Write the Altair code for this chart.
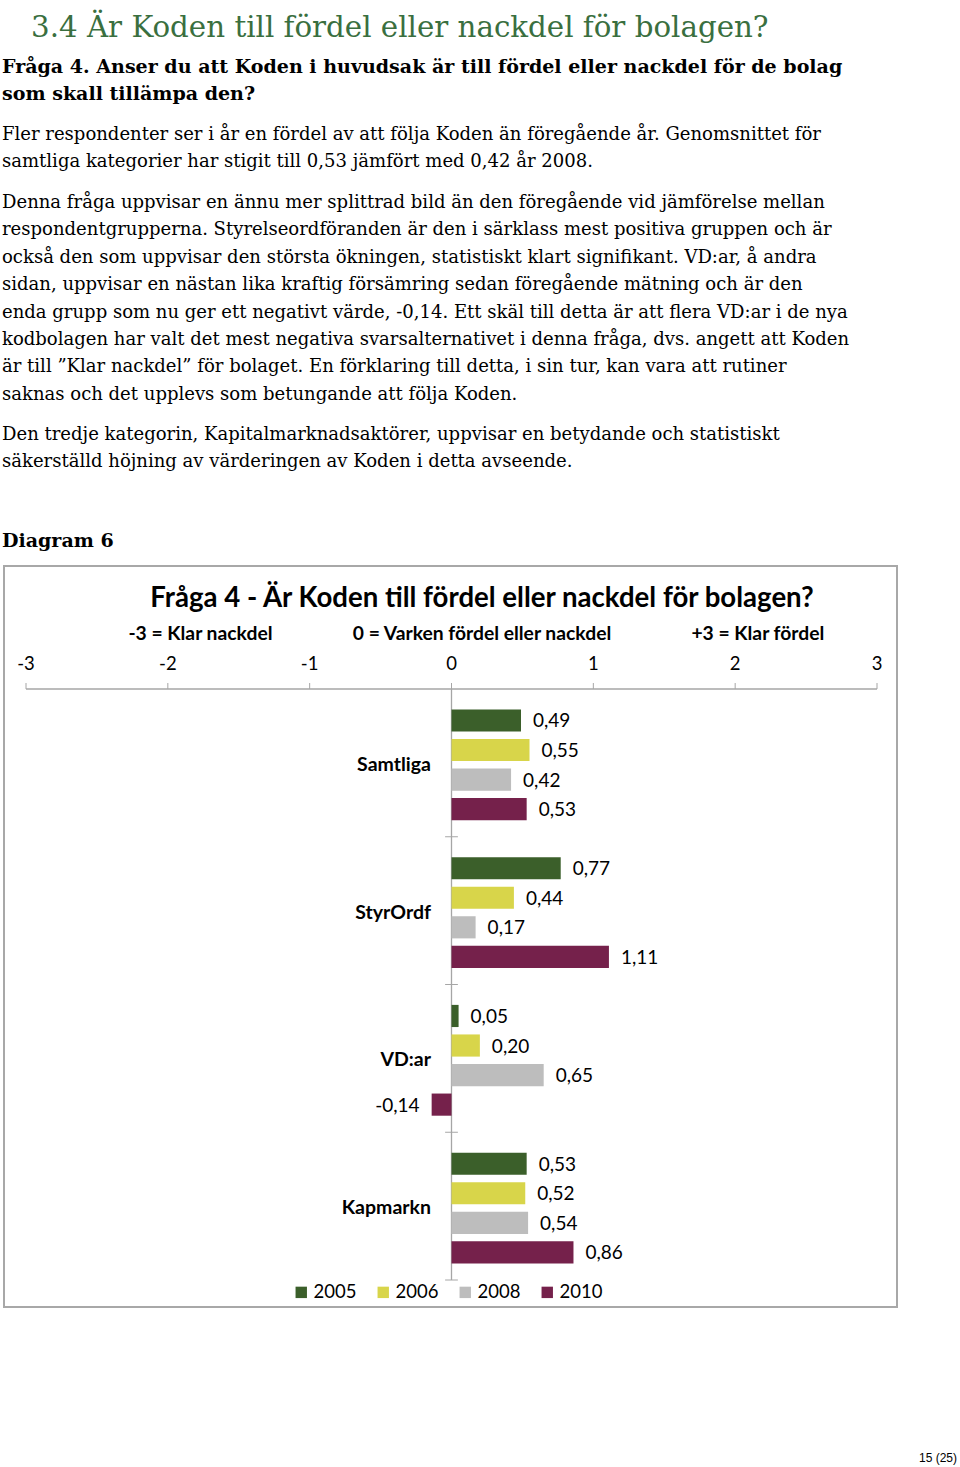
import altair as alt
import pandas as pd

# ---------------- data ----------------
categories = ["Samtliga", "StyrOrdf", "VD:ar", "Kapmarkn"]
years = ["2005", "2006", "2008", "2010"]
v2005 = [0.49, 0.77, 0.05, 0.53]
v2006 = [0.55, 0.44, 0.20, 0.52]
v2008 = [0.42, 0.17, 0.65, 0.54]
v2010 = [0.53, 1.11, -0.14, 0.86]
year_colors = ["#3b5f2a", "#d8d54a", "#bdbdbd", "#75214b"]
axis_ticks = [-3, -2, -1, 0, 1, 2, 3]
axis_tick_labels = ["-3", "-2", "-1", "0", "1", "2", "3"]
scale_notes = ["-3 = Klar nackdel", "0 = Varken fördel eller nackdel", "+3 = Klar fördel"]
scale_note_pos = [-1.77, 0.215, 2.16]

heading = "3.4  Är Koden till fördel eller nackdel för bolagen?"
question = ["Fråga 4. Anser du att Koden i huvudsak är till fördel eller nackdel för de bolag",
            "som skall tillämpa den?"]
para1 = ["Fler respondenter ser i år en fördel av att följa Koden än föregående år. Genomsnittet för",
         "samtliga kategorier har stigit till 0,53 jämfört med 0,42 år 2008."]
para2 = ["Denna fråga uppvisar en ännu mer splittrad bild än den föregående vid jämförelse mellan",
         "respondentgrupperna. Styrelseordföranden är den i särklass mest positiva gruppen och är",
         "också den som uppvisar den största ökningen, statistiskt klart signifikant. VD:ar, å andra",
         "sidan, uppvisar en nästan lika kraftig försämring sedan föregående mätning och är den",
         "enda grupp som nu ger ett negativt värde, -0,14. Ett skäl till detta är att flera VD:ar i de nya",
         "kodbolagen har valt det mest negativa svarsalternativet i denna fråga, dvs. angett att Koden",
         "är till ”Klar nackdel” för bolaget. En förklaring till detta, i sin tur, kan vara att rutiner",
         "saknas och det upplevs som betungande att följa Koden."]
para3 = ["Den tredje kategorin, Kapitalmarknadsaktörer, uppvisar en betydande och statistiskt",
         "säkerställd höjning av värderingen av Koden i detta avseende."]
diagram_label = "Diagram 6"
chart_title = "Fråga 4 - Är Koden till fördel eller nackdel för bolagen?"
footer = "15 (25)"

rows = []
for yi, (y, vals) in enumerate(zip(years, [v2005, v2006, v2008, v2010])):
    for ci, (c, v) in enumerate(zip(categories, vals)):
        rows.append({"cat": c, "ci": ci, "year": y, "yi": yi, "v": v, "zero": 0})
df = pd.DataFrame(rows)
cat_df = pd.DataFrame({"cat": categories, "ci": list(range(len(categories)))})

W, H = 960, 1467
SERIF = "DejaVu Serif"
SANS = "Lato"
GRAY = "#a6a6a6"

# group of 4 bars = 5 slots (outer padding, bars 0.75 wide, step 1)
G = 5
PAD = 0.69
xs = alt.Scale(domain=[-3, 3], range=[26, 877], nice=False, zero=False)
ys = alt.Scale(domain=[0, G * len(categories)], range=[689, 1280], nice=False, zero=False)

one = pd.DataFrame({"a": [0]})


def txt(text, x, y, size, font=SERIF, weight="normal", color="#000000", align="left",
        baseline="alphabetic", line_height=None):
    kw = dict(text=text, font=font, fontSize=size, fontWeight=weight, color=color,
              align=align, baseline=baseline)
    if line_height:
        kw["lineHeight"] = line_height
    return alt.Chart(one).mark_text(**kw).encode(x=alt.value(x), y=alt.value(y))


LH = 27.4
page_text = [
    txt(heading, 31, 37, 29.3, color="#3a6f3f"),
    txt(question, 2, 73, 19.05, weight="bold", line_height=LH),
    txt(para1, 2, 140, 18.05, line_height=LH),
    txt(para2, 2, 208, 18.05, line_height=LH),
    txt(para3, 2, 440, 18.05, line_height=LH),
    txt(diagram_label, 2, 547, 19.05, weight="bold"),
    txt(footer, 957, 1462, 12, font="Liberation Sans", align="right"),
]

frame = alt.Chart(one).mark_rect(fill="white", stroke="#a8a8a8", strokeWidth=2).encode(
    x=alt.value(4), x2=alt.value(897), y=alt.value(566), y2=alt.value(1307))

title_layer = txt(chart_title, 482, 607, 27.6, font=SANS, weight="bold", align="center")

notes_df = pd.DataFrame({"note": scale_notes, "pos": scale_note_pos})
notes = alt.Chart(notes_df).mark_text(font=SANS, fontSize=19.3, fontWeight="bold",
                                      baseline="alphabetic").encode(
    x=alt.X("pos:Q", scale=xs, axis=None), y=alt.value(640), text="note:N")

ticks_df = pd.DataFrame({"t": axis_ticks, "lbl": axis_tick_labels})
tick_labels = alt.Chart(ticks_df).mark_text(font=SANS, fontSize=18.5, baseline="alphabetic").encode(
    x=alt.X("t:Q", scale=xs, axis=None), y=alt.value(670), text="lbl:N")
tick_marks = alt.Chart(ticks_df).mark_rule(color=GRAY, strokeWidth=1).encode(
    x=alt.X("t:Q", scale=xs, axis=None), y=alt.value(683), y2=alt.value(689))
axis_line = alt.Chart(ticks_df).mark_rule(color=GRAY, strokeWidth=1.3).encode(
    x=alt.X("min(t):Q", scale=xs, axis=None), x2="max(t):Q", y=alt.value(689))

vline = alt.Chart(df).mark_rule(color=GRAY, strokeWidth=1.3).encode(
    x=alt.X("min(zero):Q", scale=xs, axis=None), y=alt.value(689), y2=alt.value(1280))

cat_ticks = alt.Chart(cat_df).transform_calculate(
    yb=f"(datum.ci + 1) * {G}", xl="-0.045", xr="0.045"
).mark_rule(color=GRAY, strokeWidth=1).encode(
    y=alt.Y("yb:Q", scale=ys, axis=None),
    x=alt.X("xl:Q", scale=xs, axis=None), x2="xr:Q")

cat_labels = alt.Chart(cat_df).transform_calculate(
    yc=f"datum.ci * {G} + {G}/2"
).mark_text(font=SANS, fontSize=19.5, fontWeight="bold", align="right",
            baseline="middle", dy=2).encode(
    y=alt.Y("yc:Q", scale=ys, axis=None), x=alt.value(431), text="cat:N")

bar_base = alt.Chart(df).transform_calculate(
    top=f"datum.ci * {G} + {PAD} + datum.yi",
    bot=f"datum.ci * {G} + {PAD} + datum.yi + 0.75",
    mid=f"datum.ci * {G} + {PAD} + datum.yi + 0.375",
    lbl="(datum.v < 0 ? '-' : '') + replace(format(abs(datum.v), '.2f'), '.', ',')",
)

bars = bar_base.mark_bar().encode(
    x=alt.X("v:Q", scale=xs, axis=None),
    x2="zero:Q",
    y=alt.Y("top:Q", scale=ys, axis=None),
    y2="bot:Q",
    color=alt.Color("year:N", scale=alt.Scale(domain=years, range=year_colors),
                    legend=alt.Legend(orient="none", legendX=292, legendY=1283,
                                      direction="horizontal", title=None,
                                      symbolType="square", symbolSize=130,
                                      symbolStrokeWidth=0, labelFont=SANS,
                                      labelFontSize=18.5, labelOffset=3,
                                      columnPadding=17, labelColor="#000000")),
)

lab_pos = bar_base.transform_filter("datum.v >= 0").mark_text(
    font=SANS, fontSize=19, align="left", baseline="middle", dx=12, dy=1).encode(
    x=alt.X("v:Q", scale=xs, axis=None),
    y=alt.Y("mid:Q", scale=ys, axis=None),
    text="lbl:N")
lab_neg = bar_base.transform_filter("datum.v < 0").mark_text(
    font=SANS, fontSize=19, align="right", baseline="middle", dx=-12, dy=1).encode(
    x=alt.X("v:Q", scale=xs, axis=None),
    y=alt.Y("mid:Q", scale=ys, axis=None),
    text="lbl:N")

chart = alt.layer(
    frame, *page_text, title_layer, notes, tick_labels, tick_marks, axis_line,
    vline, cat_ticks, cat_labels, bars, lab_pos, lab_neg
).properties(
    width=W, height=H, autosize="none", padding=0, background="white"
).configure_view(stroke=None)

chart.save("out.html", embed_options={"renderer": "svg", "actions": False})
